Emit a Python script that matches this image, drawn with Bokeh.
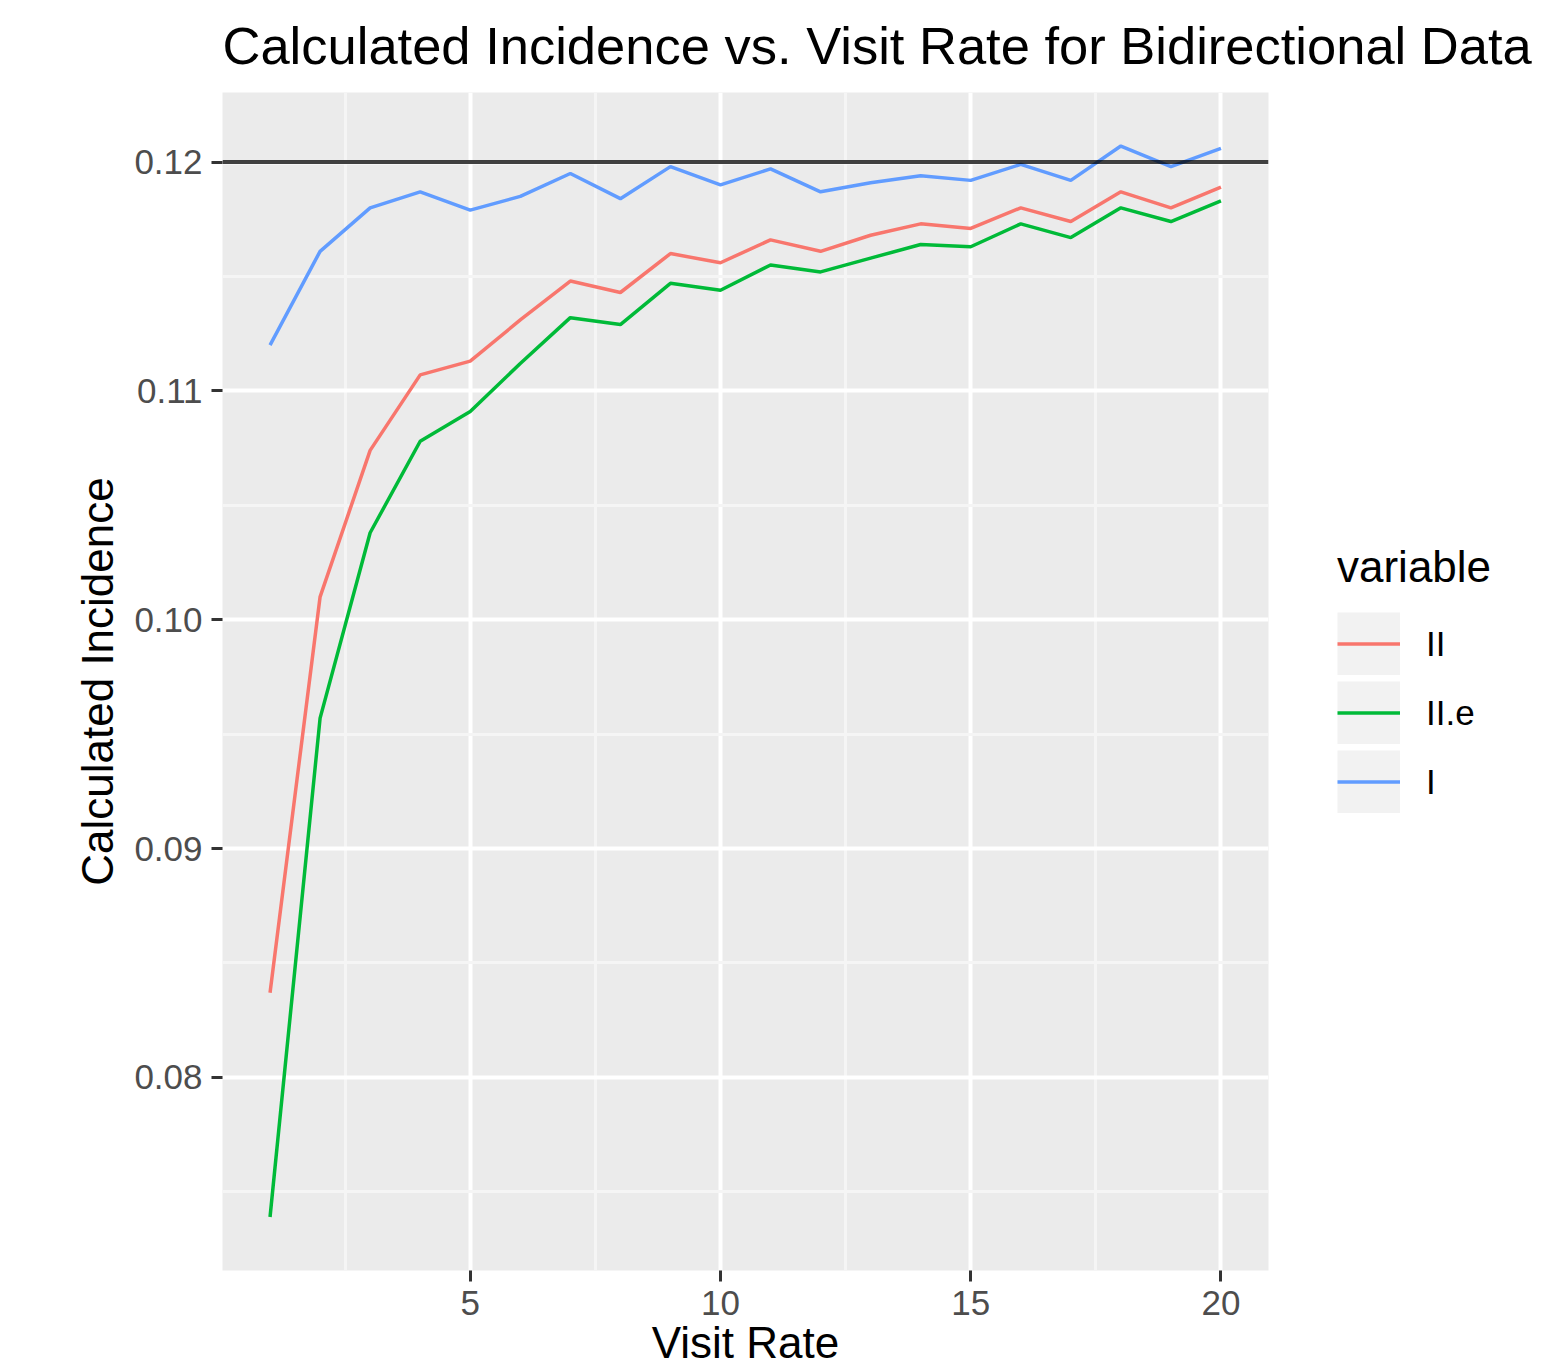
from bokeh.plotting import figure
from bokeh.models import (Range1d, FixedTicker, PrintfTickFormatter, Span,
                          Legend, LegendItem)
from bokeh.core.properties import value
from bokeh.embed import file_html
from bokeh.resources import INLINE

# ---- data ----
visit_rate = list(range(1, 21))
series_labels = ["II", "II.e", "I"]
vals_II = [0.0837, 0.1010, 0.1074, 0.1107, 0.1113, 0.1131, 0.1148, 0.1143, 0.1160, 0.1156,
           0.1166, 0.1161, 0.1168, 0.1173, 0.1171, 0.1180, 0.1174, 0.1187, 0.1180, 0.1189]
vals_IIe = [0.0739, 0.0957, 0.1038, 0.1078, 0.1091, 0.1112, 0.1132, 0.1129, 0.1147, 0.1144,
            0.1155, 0.1152, 0.1158, 0.1164, 0.1163, 0.1173, 0.1167, 0.1180, 0.1174, 0.1183]
vals_I = [0.1120, 0.1161, 0.1180, 0.1187, 0.1179, 0.1185, 0.1195, 0.1184, 0.1198, 0.1190,
          0.1197, 0.1187, 0.1191, 0.1194, 0.1192, 0.1199, 0.1192, 0.1207, 0.1198, 0.1206]
reference_level = 0.12
x_ticks = [5, 10, 15, 20]
x_minor = [2.5, 7.5, 12.5, 17.5]
y_ticks = [0.08, 0.09, 0.10, 0.11, 0.12]
y_minor = [0.075, 0.085, 0.095, 0.105, 0.115]

colors = ["#F8766D", "#00BA38", "#619CFF"]
FONT = "Liberation Sans"

# ggplot-like 5% expansion computed from the data
all_y = vals_II + vals_IIe + vals_I + [reference_level]
ymin, ymax = min(all_y), max(all_y)
ypad = (ymax - ymin) * 0.05
xmin, xmax = min(visit_rate), max(visit_rate)
xpad = (xmax - xmin) * 0.05

p = figure(frame_width=1046, frame_height=1178,
           x_range=Range1d(xmin - xpad, xmax + xpad),
           y_range=Range1d(ymin - ypad, ymax + ypad),
           output_backend="svg", toolbar_location=None,
           min_border_left=222, min_border_right=273,
           min_border_top=92, min_border_bottom=99,
           background_fill_color="#EBEBEB", border_fill_color="white",
           outline_line_color=None)

p.title.text = "Calculated Incidence vs. Visit Rate for Bidirectional Data"
p.title.text_font = FONT
p.title.text_font_size = "52.5px"
p.title.text_font_style = "normal"
p.title.text_color = "black"
p.title.align = "left"
p.title.vertical_align = "top"
p.title.standoff = 31

p.xaxis.axis_label = "Visit Rate"
p.yaxis.axis_label = "Calculated Incidence"
p.xaxis.ticker = FixedTicker(ticks=x_ticks, minor_ticks=x_minor)
p.yaxis.ticker = FixedTicker(ticks=y_ticks, minor_ticks=y_minor)
p.xaxis.formatter = PrintfTickFormatter(format="%d")
p.yaxis.formatter = PrintfTickFormatter(format="%.2f")

for ax in (p.xaxis, p.yaxis):
    ax.axis_line_color = None
    ax.major_tick_line_color = "#333333"
    ax.major_tick_line_width = 3
    ax.major_tick_out = 11
    ax.major_tick_in = 0
    ax.minor_tick_line_color = None
    ax.major_label_text_font = FONT
    ax.major_label_text_font_size = "35px"
    ax.major_label_text_color = "#4D4D4D"
    ax.axis_label_text_font = FONT
    ax.axis_label_text_font_size = "44px"
    ax.axis_label_text_font_style = "normal"
    ax.axis_label_text_color = "black"

p.yaxis.major_label_standoff = 9
p.yaxis.axis_label_standoff = 9
p.xaxis.major_label_standoff = 9
p.xaxis.axis_label_standoff = 0

for g in (p.xgrid, p.ygrid):
    g.grid_line_color = "white"
    g.grid_line_width = 4
    g.minor_grid_line_color = "#F5F5F5"
    g.minor_grid_line_width = 3

renderers = []
for vals, col in zip([vals_II, vals_IIe, vals_I], colors):
    r = p.line(visit_rate, vals, line_color=col, line_width=3.5)
    renderers.append(r)

hline = Span(location=reference_level, dimension="width", line_color="black",
             line_alpha=0.75, line_width=4)
p.add_layout(hline)

# legend key background: hidden wide line, drawn only inside the legend keys
key_bg = p.line(visit_rate, vals_I, line_color="#F2F2F2", line_width=63)
key_bg.visible = False

items = [LegendItem(label=value(lbl), renderers=[key_bg, r])
         for lbl, r in zip(series_labels, renderers)]
legend = Legend(items=items, location=(69, 457), title="variable",
                title_text_font=FONT, title_text_font_size="44px",
                title_text_font_style="normal", title_text_color="black",
                title_standoff=20,
                label_text_font=FONT, label_text_font_size="35px", label_text_color="black",
                glyph_width=63, glyph_height=63, spacing=6, label_standoff=26,
                padding=0, margin=0, border_line_color=None, background_fill_alpha=0)
p.add_layout(legend, "right")

open("out.html", "w").write(file_html(p, INLINE))
